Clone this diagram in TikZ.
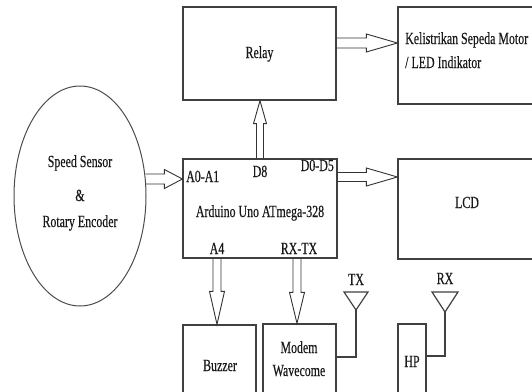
\documentclass[tikz,border=0pt]{standalone}
\usepackage{fontspec}
\setmainfont{Liberation Serif}[FakeStretch=0.7,FakeBold=0.4]
\usetikzlibrary{calc,shapes.geometric}
\tikzset{
  box/.style={draw=black!75, line width=1.2pt, rectangle, inner sep=0pt},
  lbl/.style={inner sep=0pt, anchor=base, font=\fontsize{17}{20}\selectfont, text=black!90},
  barrow/.style={draw=black!80, line width=0.9pt, line join=miter},
  wire/.style={draw=black!75, line width=1.2pt},
}
% block arrow: #1 start, #2 end, #3 head length, #4 shaft half width, #5 head half width
\newcommand\blockarrow[5]{%
  \coordinate (ba) at ($(#2)!#3!(#1)$);
  \draw[barrow] ($(#1)!#4!90:(#2)$) -- ($(ba)!#4!90:(#2)$) -- ($(ba)!#5!90:(#2)$)
     -- (#2) -- ($(ba)!#5!-90:(#2)$) -- ($(ba)!#4!-90:(#2)$) -- ($(#1)!#4!-90:(#2)$);
}
\begin{document}
\begin{tikzpicture}[x=1pt,y=-1pt]
\useasboundingbox (0,0) rectangle (532,391);
\fill[white] (0,0) rectangle (532,391);

% boxes
\node[box, minimum width=153pt, minimum height=93pt] (relay) at (259.5,53.5) {};
\node[box, minimum width=136pt, minimum height=97pt] (kel) at (466,55.5) {};
\node[draw=black!70, line width=1pt, ellipse, minimum width=132pt, minimum height=220pt, inner sep=0pt] (sensor) at (80,196) {};
\node[box, minimum width=154pt, minimum height=99pt] (ard) at (260,208.5) {};
\node[box, minimum width=136pt, minimum height=100pt] (lcd) at (466,209) {};
\node[box, minimum width=73pt, minimum height=69pt] (buzzer) at (219.5,359.5) {};
\node[box, minimum width=73pt, minimum height=70pt] (modem) at (299.5,359) {};
\node[box, minimum width=28pt, minimum height=70pt] (hp) at (412,359) {};

% texts
\node[lbl] (trelay) at (259.5,58) {Relay};
\node[lbl, anchor=base west] (tkel1) at (405,44) {Kelistrikan Sepeda Motor};
\node[lbl, anchor=base west] (tkel2) at (405,68) {/ LED Indikator};
\node[lbl] (ts1) at (80,167) {Speed Sensor};
\node[lbl] (ts2) at (80,201) {\&};
\node[lbl] (ts3) at (80,227) {Rotary Encoder};
\node[lbl] (tard) at (260,217) {Arduino Uno ATmega-328};
\node[lbl, anchor=base west] (ta0) at (186,182) {A0-A1};
\node[lbl] (td8) at (260,177) {D8};
\node[lbl, anchor=base east] (td0) at (334,171) {D0-D5};
\node[lbl] (ta4) at (217,254) {A4};
\node[lbl] (trx) at (299,254) {RX-TX};
\node[lbl] (tlcd) at (467,208) {LCD};
\node[lbl] (tbuz) at (220,371) {Buzzer};
\node[lbl] (tmod1) at (299,353) {Modem};
\node[lbl] (tmod2) at (299,376) {Wavecome};
\node[lbl] (thp) at (412,367) {HP};
\node[lbl] (ttx) at (356,285) {TX};
\node[lbl] (trxa) at (445,284) {RX};

% block arrows
\coordinate (r1) at ($(relay.east)+(0,-10.5)$);
\coordinate (k1) at (kel.west |- r1);
\blockarrow{r1}{k1}{31pt}{5pt}{9pt}

\coordinate (a1) at ($(ard.west)+(0,-29.5)$);
\coordinate (s1) at ($(sensor.east |- a1)+(-1,0)$);
\blockarrow{s1}{a1}{18pt}{5pt}{9.5pt}

\coordinate (d1) at (ard.north);
\coordinate (d2) at (relay.south -| d1);
\blockarrow{d1}{d2}{23pt}{3.5pt}{6.5pt}

\coordinate (e1) at ($(ard.east)+(0,-31.5)$);
\coordinate (e2) at (lcd.west |- e1);
\blockarrow{e1}{e2}{31pt}{4.5pt}{9pt}

\coordinate (f1) at ($(ard.south)+(-43,0)$);
\coordinate (f2) at (f1 |- buzzer.north);
\blockarrow{f1}{f2}{33pt}{4pt}{7.5pt}

\coordinate (g1) at ($(ard.south)+(37,0)$);
\coordinate (g2) at (g1 |- modem.north);
\blockarrow{g1}{g2}{31pt}{4pt}{7.5pt}

% antennas
\coordinate (txa) at (356,310);
\draw[wire] (344,292) -- (368,292) -- (txa) -- cycle;
\draw[wire] (txa) |- (modem.east |- 0,357);
\coordinate (rxa) at (445,312);
\draw[wire] (432,292) -- (458,292) -- (rxa) -- cycle;
\draw[wire] (rxa) |- (hp.east |- 0,356);
\end{tikzpicture}
\end{document}
